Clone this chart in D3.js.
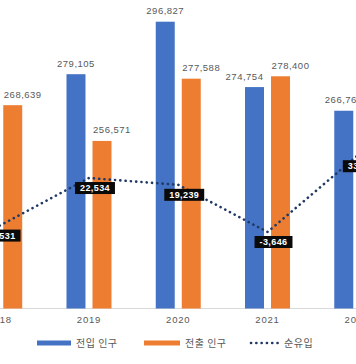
<!DOCTYPE html>
<html>
<head>
<meta charset="utf-8">
<script src="https://cdn.jsdelivr.net/npm/d3@7"></script>
<style>
  html, body { margin: 0; padding: 0; background: #fff; }
  svg { display: block; }
</style>
</head>
<body>
<svg id="chart" width="356" height="364"></svg>
<script>
// ---- data ----
const years = ["2018", "2019", "2020", "2021", "2022"];
const inflow = [null, 279105, 296827, 274754, 266765];   // 전입 인구 (2018 cut off in source)
const outflow = [268639, 256571, 277588, 278400, 233645]; // 전출 인구 (2022 cut off in source)
const netflow = [-531, 22534, 19239, -3646, 33120];      // 순유입
const seriesNames = ["전입 인구", "전출 인구", "순유입"];

const W = 356, H = 364;
const blue = "#4472C4", orange = "#ED7D31", navy = "#1F3864";
const svg = d3.select("#chart");
svg.append("rect").attr("width", W).attr("height", H).attr("fill", "#fff");

const x = d3.scaleBand().domain(years).range([-44.9, 401.4]).padding(0);
const x1 = d3.scaleBand().domain(["in", "out"]).range([-22.5, 22.5]).paddingInner(0.27);
const y = d3.scaleLinear().domain([200000, 300000]).range([308.5, 12.3]);
const y2 = d3.scaleLinear().domain([-10000, 50000]).range([245.1, 121.4]);
const cx = d => x(d) + x.bandwidth() / 2;

const locale = d3.formatLocale({ decimal: ".", thousands: ",", grouping: [3], currency: ["", ""], minus: "-" });
const numFmt = locale.format(",");

// baseline axis
svg.append("line")
  .attr("x1", 0).attr("x2", W)
  .attr("y1", y(200000)).attr("y2", y(200000))
  .attr("stroke", "#d9d9d9").attr("stroke-width", 1);

// x axis labels
const xAxis = d3.axisBottom(x).tickSize(0).tickPadding(8);
const gx = svg.append("g").attr("transform", `translate(0,${y(200000)})`).call(xAxis);
gx.select(".domain").remove();
gx.selectAll("text")
  .attr("fill", "#595959")
  .style("font-family", "'Liberation Sans', Arial, sans-serif")
  .style("font-size", "9.5px")
  .style("letter-spacing", "0.8px");

// bars
const rows = years.map((yr, i) => ({ yr, inV: inflow[i], outV: outflow[i] }));
const g = svg.append("g");
rows.forEach(r => {
  [["in", r.inV, blue], ["out", r.outV, orange]].forEach(([k, v, c]) => {
    if (v == null) return;
    g.append("rect")
      .attr("x", cx(r.yr) + x1(k))
      .attr("y", y(v))
      .attr("width", x1.bandwidth())
      .attr("height", y(200000) - y(v))
      .attr("fill", c);
  });
});

// bar value labels (simple collision avoidance)
rows.forEach(r => {
  const labels = [];
  if (r.outV != null) labels.push({ k: "out", v: r.outV, dx: 10 });
  if (r.inV != null) {
    let dx = 0;
    if (r.outV != null && Math.abs(y(r.outV) - y(r.inV)) < 14) dx = -10;
    labels.push({ k: "in", v: r.inV, dx });
  }
  labels.forEach(l => {
    svg.append("text")
      .attr("x", cx(r.yr) + x1(l.k) + x1.bandwidth() / 2 + l.dx)
      .attr("y", y(l.v) - 7.5)
      .attr("text-anchor", "middle")
      .attr("fill", "#595959")
      .style("font-family", "'Liberation Sans', Arial, sans-serif")
      .style("font-size", "9.5px")
      .style("letter-spacing", "0.5px")
      .text(numFmt(l.v));
  });
});

// net line (dotted)
const pts = years.map((yr, i) => ({ yr, v: netflow[i] }));
const line = d3.line().x(d => cx(d.yr)).y(d => y2(d.v));
svg.append("path")
  .datum(pts)
  .attr("d", line)
  .attr("fill", "none")
  .attr("stroke", navy)
  .attr("stroke-width", 2.6)
  .attr("stroke-linecap", "round")
  .attr("stroke-dasharray", "0.1,5.2");

// net labels (black boxes)
pts.forEach(p => {
  const lg = svg.append("g")
    .attr("transform", `translate(${cx(p.yr) + 6},${y2(p.v) + 10})`);
  const t = lg.append("text")
    .attr("text-anchor", "middle")
    .attr("dy", "0.35em")
    .attr("fill", "#fff")
    .style("font-family", "'Liberation Sans', Arial, sans-serif")
    .style("font-size", "9px")
    .style("font-weight", "bold")
    .style("letter-spacing", "0.4px")
    .text(numFmt(p.v));
  const bb = t.node().getBBox();
  lg.insert("rect", "text")
    .attr("x", bb.x - 5).attr("y", -6)
    .attr("width", bb.width + 10).attr("height", 12)
    .attr("fill", "#0a0a0a");
});

// legend
const leg = svg.append("g").attr("transform", "translate(0,343)");
const legItems = [
  { name: seriesNames[0], type: "bar", color: blue, x0: 37, w: 34 },
  { name: seriesNames[1], type: "bar", color: orange, x0: 144, w: 36 },
  { name: seriesNames[2], type: "line", color: navy, x0: 251, w: 28 }
];
legItems.forEach(it => {
  if (it.type === "bar") {
    leg.append("rect")
      .attr("x", it.x0).attr("y", -2.5)
      .attr("width", it.w).attr("height", 5)
      .attr("fill", it.color);
  } else {
    leg.append("line")
      .attr("x1", it.x0).attr("x2", it.x0 + it.w)
      .attr("y1", 0).attr("y2", 0)
      .attr("stroke", it.color).attr("stroke-width", 2.6)
      .attr("stroke-linecap", "round")
      .attr("stroke-dasharray", "0.1,5.2");
  }
  leg.append("text")
    .attr("x", it.x0 + it.w + 5)
    .attr("y", 0)
    .attr("dy", "0.35em")
    .attr("fill", "#595959")
    .style("font-family", "'Noto Sans CJK KR', sans-serif")
    .style("font-size", "10px")
    .style("letter-spacing", "0.5px")
    .text(it.name);
});
</script>
</body>
</html>
